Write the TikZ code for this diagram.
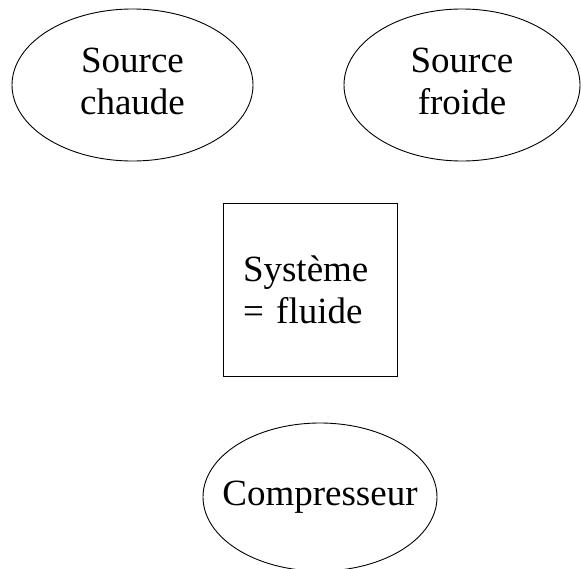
\documentclass[tikz,border=0pt]{standalone}
\usepackage{fontspec}
\setmainfont{Liberation Serif}
\usetikzlibrary{shapes.geometric}
\newcommand{\twolines}[2]{\makebox[0pt]{\begin{tabular}{@{}c@{}}#1\\#2\end{tabular}}}
\begin{document}
\begin{tikzpicture}[x=1pt,y=-1pt,
  every node/.style={font=\fontsize{37}{42}\selectfont, line width=0.9pt},
  oval/.style={draw, ellipse, inner sep=0pt},
  sysbox/.style={draw, rectangle, inner xsep=20pt, inner ysep=0pt, text width=134pt, align=left}]
  \useasboundingbox (0,0) rectangle (581,568);
  % heat reservoirs
  \node[oval, minimum width=241pt, minimum height=152pt] (chaude) at (132.5,85) {\twolines{Source}{chaude}};
  \node[oval, minimum width=236pt, minimum height=152pt] (froide) at (462,85) {\twolines{Source}{froide}};
  % the system
  \node[sysbox, minimum height=173pt] (sys) at (310,289.5) {Système\\= fluide};
  % compressor
  \node[oval, minimum width=234pt, minimum height=148pt] (comp) at (320,497) {\makebox[0pt]{Compresseur}};
\end{tikzpicture}
\end{document}
